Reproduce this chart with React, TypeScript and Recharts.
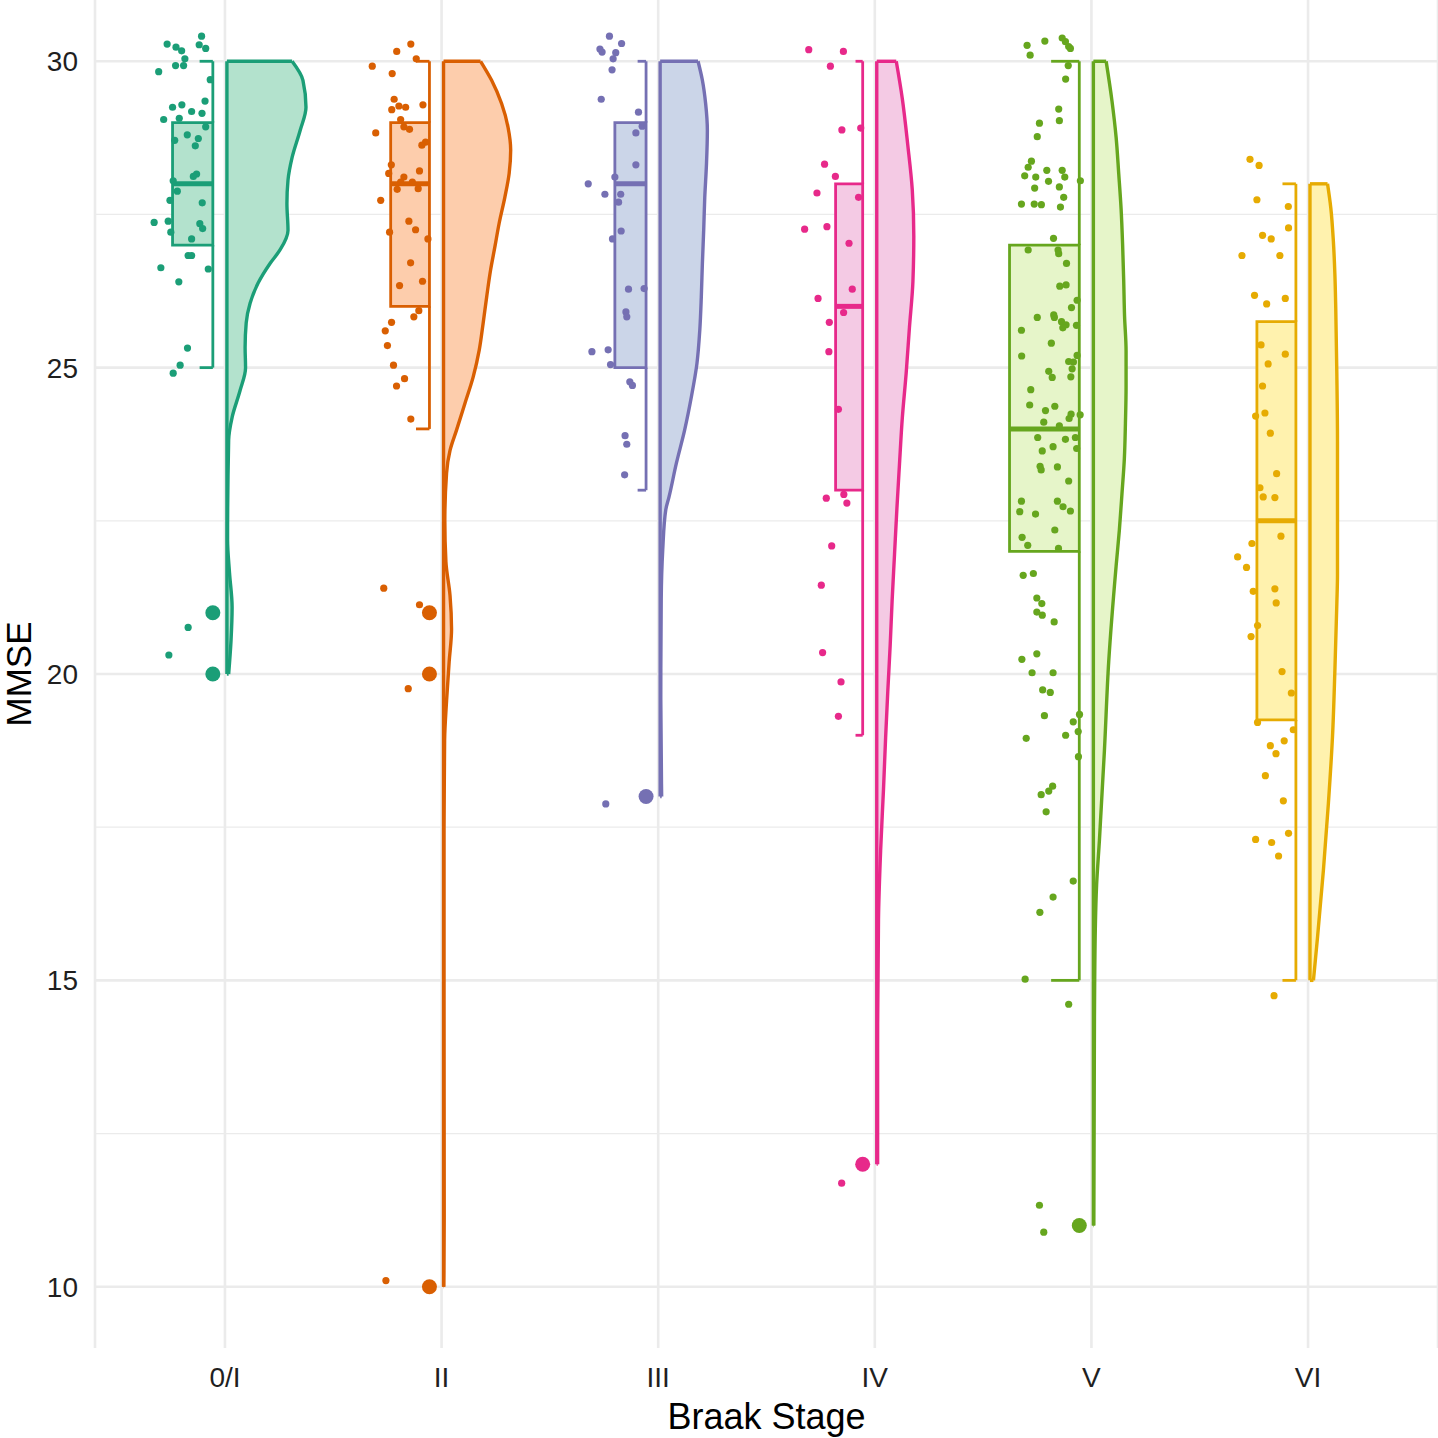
import React from "react";
import {
  ComposedChart, Area, Scatter, XAxis, YAxis, CartesianGrid,
  ReferenceArea, ReferenceLine, Label,
} from "recharts";

const STAGES = ["0/I", "II", "III", "IV", "V", "VI"];
const LINE_COLORS = ["#1B9E77", "#D95F02", "#7570B3", "#E7298A", "#66A61E", "#E6AB02"];
const FILL_COLORS = ["#B3E2CD", "#FDCDAC", "#CBD5E8", "#F4CAE4", "#E6F5C9", "#FFF2AE"];
const MAJOR_TICKS = [10, 15, 20, 25, 30];
const MINOR_TICKS = [12.5, 17.5, 22.5, 27.5];
const GRID = "#EBEBEB";

// half boxplot stats (MMSE) per Braak stage
const Q1 = [27, 26, 25, 23, 22, 19.25];
const MEDIAN = [28, 28, 28, 26, 24, 22.5];
const Q3 = [29, 29, 29, 28, 27, 25.75];
const WHISKER_LOW = [25, 24, 23, 19, 15, 15];
const WHISKER_HIGH = [30, 30, 30, 30, 30, 28];
// varwidth box widths and whisker cap lengths, in category units
const BOX_WIDTH = [0.186, 0.179, 0.144, 0.125, 0.322, 0.18];
const CAP_WIDTH = [0.061, 0.062, 0.039, 0.033, 0.13, 0.062];
const OUTLIERS = [[21, 20], [21, 20, 10], [18], [12], [11], []];

// half violins: [MMSE, half width in category units]
const VIOLIN_0I = [[30, 0.301], [29.69, 0.351], [29.25, 0.365], [28.87, 0.338], [28.43, 0.301], [28.06, 0.282], [27.68, 0.277], [27.24, 0.282], [26.92, 0.245], [26.7, 0.199], [26.38, 0.144], [26.05, 0.107], [25.73, 0.089], [25.33, 0.084], [25, 0.086], [24.63, 0.061], [24.19, 0.024], [23.82, 0.008], [22.19, 0.003], [21.65, 0.012], [21.09, 0.024], [20.55, 0.019], [20, 0.008]];
const VIOLIN_II = [[30, 0.171], [29.69, 0.222], [29.31, 0.268], [28.92, 0.298], [28.55, 0.31], [28.17, 0.303], [27.78, 0.283], [27.36, 0.257], [26.97, 0.237], [26.59, 0.217], [26.15, 0.199], [25.73, 0.183], [25.29, 0.165], [24.85, 0.137], [24.42, 0.099], [23.98, 0.06], [23.65, 0.03], [23.28, 0.014], [22.5, 0.006], [21.83, 0.011], [21.28, 0.03], [20.73, 0.037], [20.2, 0.026], [19.56, 0.014], [18.92, 0.005], [17.47, 0.002], [14.75, 0.002], [11.13, 0.003], [10, 0.001]];
const VIOLIN_III = [[30, 0.175], [29.69, 0.195], [29.31, 0.21], [28.87, 0.218], [28.33, 0.214], [27.78, 0.206], [27.24, 0.201], [26.7, 0.195], [26.15, 0.19], [25.61, 0.183], [25.07, 0.17], [24.52, 0.144], [23.98, 0.113], [23.44, 0.075], [22.89, 0.041], [22.68, 0.026], [22.03, 0.012], [21.22, 0.005], [19.59, 0.003], [18, 0.007]];
const VIOLIN_IV = [[30, 0.09], [29.39, 0.118], [28.64, 0.143], [27.9, 0.164], [27.15, 0.171], [26.41, 0.167], [25.66, 0.151], [24.92, 0.136], [24.18, 0.118], [23.43, 0.105], [22.7, 0.093], [21.95, 0.082], [21.2, 0.071], [20.47, 0.062], [19.72, 0.051], [18.97, 0.041], [18.11, 0.031], [17.13, 0.018], [15.99, 0.008], [13.87, 0.004], [12, 0.004]];
const VIOLIN_V = [[30, 0.059], [29.35, 0.086], [28.76, 0.105], [28.17, 0.117], [27.59, 0.128], [27.01, 0.135], [26.43, 0.14], [25.84, 0.144], [25.27, 0.151], [24.68, 0.151], [24.09, 0.148], [23.51, 0.143], [22.94, 0.132], [22.35, 0.12], [21.76, 0.105], [20.21, 0.071], [18.75, 0.051], [17.29, 0.028], [16.56, 0.015], [15.84, 0.009], [14.38, 0.005], [11, 0.002]];
const VIOLIN_VI = [[28, 0.081], [27.61, 0.096], [27.06, 0.108], [26.52, 0.115], [25.97, 0.119], [24.89, 0.124], [23.8, 0.127], [22.71, 0.127], [21.62, 0.127], [21.15, 0.124], [20.06, 0.115], [18.98, 0.104], [17.89, 0.085], [16.8, 0.062], [15.71, 0.035], [15, 0.016]];

// jittered observations: [x offset from stage, MMSE]
const JITTER_0I = [[-0.108, 30.41], [-0.267, 30.28], [-0.226, 30.23], [-0.2, 30.17], [-0.119, 30.27], [-0.089, 30.21], [-0.185, 30.04], [-0.228, 29.93], [-0.191, 29.93], [-0.306, 29.83], [-0.068, 29.7], [-0.092, 29.35], [-0.242, 29.25], [-0.199, 29.29], [-0.154, 29.18], [-0.106, 29.15], [-0.283, 29.05], [-0.211, 29.07], [-0.089, 28.93], [-0.232, 28.71], [-0.174, 28.8], [-0.123, 28.74], [-0.137, 28.62], [-0.131, 28.16], [-0.146, 28.12], [-0.239, 28.05], [-0.22, 27.88], [-0.254, 27.73], [-0.105, 27.69], [-0.327, 27.37], [-0.262, 27.39], [-0.116, 27.35], [-0.103, 27.27], [-0.25, 27.21], [-0.154, 27.1], [-0.17, 26.83], [-0.154, 26.83], [-0.296, 26.63], [-0.077, 26.61], [-0.213, 26.4], [-0.173, 25.32], [-0.207, 25.04], [-0.239, 24.91], [-0.17, 20.76], [-0.259, 20.31]];
const JITTER_II = [[-0.142, 30.28], [-0.207, 30.16], [-0.117, 30.04], [-0.32, 29.92], [-0.228, 29.8], [-0.219, 29.38], [-0.197, 29.27], [-0.166, 29.25], [-0.23, 29.21], [-0.086, 29.29], [-0.189, 29.05], [-0.174, 28.93], [-0.148, 28.89], [-0.304, 28.83], [-0.074, 28.68], [-0.091, 28.63], [-0.232, 28.31], [-0.244, 28.17], [-0.102, 28.21], [-0.174, 28.11], [-0.189, 28.03], [-0.135, 28.03], [-0.205, 27.91], [-0.108, 27.92], [-0.281, 27.73], [-0.151, 27.39], [-0.12, 27.25], [-0.24, 27.21], [-0.063, 27.1], [-0.143, 26.71], [-0.194, 26.34], [-0.088, 26.41], [-0.105, 25.93], [-0.128, 25.83], [-0.231, 25.74], [-0.26, 25.6], [-0.25, 25.36], [-0.222, 25.04], [-0.171, 24.82], [-0.208, 24.7], [-0.142, 24.16], [-0.267, 21.4], [-0.102, 21.13], [-0.154, 19.76], [-0.257, 10.1]];
const JITTER_III = [[-0.225, 30.41], [-0.169, 30.29], [-0.269, 30.2], [-0.259, 30.15], [-0.196, 30.14], [-0.208, 30.04], [-0.213, 29.86], [-0.263, 29.38], [-0.091, 29.17], [-0.074, 28.94], [-0.103, 28.83], [-0.103, 28.31], [-0.2, 28.11], [-0.323, 28], [-0.246, 27.83], [-0.173, 27.83], [-0.183, 27.7], [-0.171, 27.23], [-0.211, 27.1], [-0.137, 26.28], [-0.065, 26.29], [-0.149, 25.91], [-0.145, 25.83], [-0.306, 25.26], [-0.231, 25.29], [-0.22, 25.05], [-0.131, 24.77], [-0.119, 24.71], [-0.153, 23.89], [-0.145, 23.75], [-0.155, 23.25], [-0.242, 17.88]];
const JITTER_IV = [[-0.305, 30.19], [-0.145, 30.16], [-0.205, 29.92], [-0.152, 28.88], [-0.065, 28.91], [-0.232, 28.32], [-0.182, 28.12], [-0.267, 27.85], [-0.075, 27.78], [-0.324, 27.26], [-0.221, 27.3], [-0.119, 27.03], [-0.104, 26.28], [-0.262, 26.13], [-0.144, 25.9], [-0.21, 25.74], [-0.212, 25.26], [-0.168, 24.32], [-0.224, 22.87], [-0.143, 22.93], [-0.129, 22.79], [-0.199, 22.09], [-0.247, 21.45], [-0.241, 20.35], [-0.156, 19.87], [-0.168, 19.31], [-0.153, 11.69]];
const JITTER_V = [[-0.297, 30.26], [-0.283, 30.1], [-0.215, 30.33], [-0.135, 30.38], [-0.12, 30.32], [-0.105, 30.24], [-0.097, 30.21], [-0.107, 29.93], [-0.119, 29.71], [-0.151, 29.22], [-0.148, 29.03], [-0.24, 28.99], [-0.25, 28.77], [-0.277, 28.37], [-0.292, 28.27], [-0.308, 28.13], [-0.257, 28.11], [-0.206, 28.22], [-0.198, 28.04], [-0.135, 28.22], [-0.123, 28.11], [-0.148, 27.95], [-0.262, 27.93], [-0.128, 27.78], [-0.323, 27.67], [-0.264, 27.67], [-0.231, 27.66], [-0.143, 27.62], [-0.051, 28.05], [-0.175, 27.11], [-0.292, 26.92], [-0.154, 26.92], [-0.151, 26.86], [-0.115, 26.7], [-0.146, 26.33], [-0.117, 26.35], [-0.066, 26.1], [-0.092, 25.98], [-0.25, 25.82], [-0.174, 25.86], [-0.171, 25.82], [-0.138, 25.75], [-0.117, 25.7], [-0.132, 25.65], [-0.069, 25.69], [-0.323, 25.61], [-0.185, 25.4], [-0.322, 25.19], [-0.066, 25.2], [-0.105, 25.1], [-0.083, 25.09], [-0.089, 24.98], [-0.197, 24.94], [-0.181, 24.84], [-0.095, 24.85], [-0.28, 24.64], [-0.285, 24.39], [-0.212, 24.3], [-0.169, 24.37], [-0.094, 24.24], [-0.103, 24.17], [-0.052, 24.23], [-0.22, 24.11], [-0.148, 24.05], [-0.248, 23.86], [-0.12, 23.83], [-0.074, 23.86], [-0.177, 23.71], [-0.227, 23.64], [-0.068, 23.68], [-0.237, 23.39], [-0.232, 23.33], [-0.157, 23.38], [-0.105, 23.15], [-0.323, 22.82], [-0.331, 22.65], [-0.258, 22.61], [-0.157, 22.82], [-0.131, 22.73], [-0.097, 22.66], [-0.169, 22.35], [-0.32, 22.23], [-0.294, 22.1], [-0.152, 22.05], [-0.315, 21.61], [-0.268, 21.64], [-0.252, 21.24], [-0.229, 21.15], [-0.227, 20.96], [-0.252, 21.01], [-0.172, 20.85], [-0.321, 20.24], [-0.252, 20.33], [-0.274, 20.02], [-0.177, 20.02], [-0.225, 19.74], [-0.19, 19.7], [-0.217, 19.32], [-0.301, 18.95], [-0.055, 19.34], [-0.084, 19.22], [-0.119, 19], [-0.061, 19.06], [-0.06, 18.65], [-0.179, 18.17], [-0.197, 18.09], [-0.232, 18.03], [-0.209, 17.75], [-0.084, 16.62], [-0.177, 16.36], [-0.238, 16.11], [-0.306, 15.02], [-0.105, 14.61], [-0.24, 11.33], [-0.22, 10.89]];
const JITTER_VI = [[-0.268, 28.4], [-0.226, 28.3], [-0.236, 27.74], [-0.091, 27.63], [-0.09, 27.28], [-0.21, 27.16], [-0.17, 27.1], [-0.305, 26.83], [-0.13, 26.83], [-0.247, 26.18], [-0.191, 26.04], [-0.105, 26.13], [-0.217, 25.37], [-0.105, 25.22], [-0.184, 25.06], [-0.21, 24.7], [-0.242, 24.21], [-0.199, 24.26], [-0.174, 23.93], [-0.145, 23.27], [-0.222, 23.04], [-0.207, 22.89], [-0.153, 22.88], [-0.125, 22.25], [-0.259, 22.13], [-0.325, 21.91], [-0.284, 21.74], [-0.253, 21.35], [-0.153, 21.39], [-0.147, 21.16], [-0.233, 20.79], [-0.263, 20.61], [-0.12, 20.04], [-0.077, 19.69], [-0.233, 19.21], [-0.068, 19.09], [-0.11, 18.91], [-0.174, 18.83], [-0.148, 18.7], [-0.197, 18.34], [-0.114, 17.93], [-0.242, 17.3], [-0.168, 17.25], [-0.09, 17.4], [-0.136, 17.03], [-0.157, 14.75]];

const VIOLINS = [VIOLIN_0I, VIOLIN_II, VIOLIN_III, VIOLIN_IV, VIOLIN_V, VIOLIN_VI];
const JITTERS = [JITTER_0I, JITTER_II, JITTER_III, JITTER_IV, JITTER_V, JITTER_VI];

// box sits left of the stage, violin starts just right of it
const BOX_RIGHT = -0.056;
const VIOLIN_BASE = 0.009;

// one row per MMSE value, each violin's outer edge in its own column
const rowMap = new Map<number, Record<string, number>>();
VIOLINS.forEach((v, i) => {
  v.forEach(([y, w]) => {
    const row = rowMap.get(y) ?? { y };
    row["v" + i] = i + 1 + VIOLIN_BASE + w;
    rowMap.set(y, row);
  });
});
const violinRows = Array.from(rowMap.values()).sort((a, b) => a.y - b.y);

export default function App() {
  return (
    <div style={{ width: 1438, height: 1438, background: "#fff", fontFamily: "'Liberation Sans', Arial, sans-serif" }}>
      <style>{"body{margin:0}"}</style>
      <ComposedChart
        layout="vertical"
        width={1438}
        height={1438}
        data={violinRows}
        margin={{ top: 0, right: 0, bottom: 0, left: 0 }}
      >
        <CartesianGrid stroke={GRID} strokeWidth={2.6} horizontalValues={MAJOR_TICKS} />
        <CartesianGrid stroke={GRID} strokeWidth={1.3} vertical={false} horizontalValues={MINOR_TICKS} />
        <XAxis
          type="number"
          dataKey="x"
          domain={[0.4, 6.6]}
          ticks={[1, 2, 3, 4, 5, 6]}
          interval={0}
          allowDataOverflow
          tickFormatter={(v: number) => STAGES[v - 1]}
          axisLine={false}
          tickLine={false}
          tickSize={0}
          tickMargin={19}
          height={90}
          tick={{ fontSize: 28, fill: "#1f1f1f" }}
        >
          <Label value="Braak Stage" position="insideBottom" offset={9} fontSize={36} fill="#000" />
        </XAxis>
        <YAxis
          type="number"
          dataKey="y"
          domain={[9, 31]}
          reversed
          ticks={MAJOR_TICKS}
          interval={0}
          allowDataOverflow
          axisLine={false}
          tickLine={false}
          tickSize={0}
          tickMargin={17}
          width={95}
          tick={{ fontSize: 28, fill: "#1f1f1f" }}
        >
          <Label value="MMSE" angle={-90} position="center" dx={-29} fontSize={35} fill="#000" />
        </YAxis>

        {/* half violins */}
        {STAGES.map((s, i) => (
          <Area
            key={"violin" + s}
            type="monotone"
            dataKey={"v" + i}
            baseValue={i + 1 + VIOLIN_BASE}
            connectNulls
            stroke={LINE_COLORS[i]}
            strokeWidth={3.4}
            fill={FILL_COLORS[i]}
            fillOpacity={1}
            dot={false}
            activeDot={false}
            isAnimationActive={false}
          />
        ))}
        {STAGES.flatMap((s, i) => {
          const v = VIOLINS[i];
          const base = i + 1 + VIOLIN_BASE;
          const top = v[0];
          const bottom = v[v.length - 1];
          return [
            <ReferenceLine key={"vl" + s} segment={[{ x: base, y: bottom[0] }, { x: base, y: top[0] }]} stroke={LINE_COLORS[i]} strokeWidth={3.4} />,
            <ReferenceLine key={"vt" + s} segment={[{ x: base, y: top[0] }, { x: base + top[1], y: top[0] }]} stroke={LINE_COLORS[i]} strokeWidth={3.4} />,
            <ReferenceLine key={"vb" + s} segment={[{ x: base, y: bottom[0] }, { x: base + bottom[1], y: bottom[0] }]} stroke={LINE_COLORS[i]} strokeWidth={3.4} />,
          ];
        })}

        {/* half boxplots */}
        {STAGES.flatMap((s, i) => {
          const right = i + 1 + BOX_RIGHT;
          const left = right - BOX_WIDTH[i];
          const cap = right - CAP_WIDTH[i];
          const c = LINE_COLORS[i];
          return [
            <ReferenceArea key={"box" + s} x1={left} x2={right} y1={Q1[i]} y2={Q3[i]} fill={FILL_COLORS[i]} fillOpacity={1} stroke={c} strokeWidth={2.8} />,
            <ReferenceLine key={"wu" + s} segment={[{ x: right, y: Q3[i] }, { x: right, y: WHISKER_HIGH[i] }]} stroke={c} strokeWidth={2.8} />,
            <ReferenceLine key={"wl" + s} segment={[{ x: right, y: WHISKER_LOW[i] }, { x: right, y: Q1[i] }]} stroke={c} strokeWidth={2.8} />,
            <ReferenceLine key={"cu" + s} segment={[{ x: cap, y: WHISKER_HIGH[i] }, { x: right, y: WHISKER_HIGH[i] }]} stroke={c} strokeWidth={2.8} />,
            <ReferenceLine key={"cl" + s} segment={[{ x: cap, y: WHISKER_LOW[i] }, { x: right, y: WHISKER_LOW[i] }]} stroke={c} strokeWidth={2.8} />,
            <ReferenceLine key={"med" + s} segment={[{ x: left, y: MEDIAN[i] }, { x: right, y: MEDIAN[i] }]} stroke={c} strokeWidth={5} />,
          ];
        })}

        {/* raw points and outliers */}
        {STAGES.map((s, i) => (
          <Scatter
            key={"pts" + s}
            data={JITTERS[i].map(([dx, y]) => ({ x: i + 1 + dx, y }))}
            isAnimationActive={false}
            shape={(p: any) => <circle cx={p.cx} cy={p.cy} r={3.6} fill={LINE_COLORS[i]} />}
          />
        ))}
        {STAGES.map((s, i) => (
          <Scatter
            key={"out" + s}
            data={OUTLIERS[i].map((y) => ({ x: i + 1 + BOX_RIGHT, y }))}
            isAnimationActive={false}
            shape={(p: any) => <circle cx={p.cx} cy={p.cy} r={7.5} fill={LINE_COLORS[i]} />}
          />
        ))}
      </ComposedChart>
    </div>
  );
}
